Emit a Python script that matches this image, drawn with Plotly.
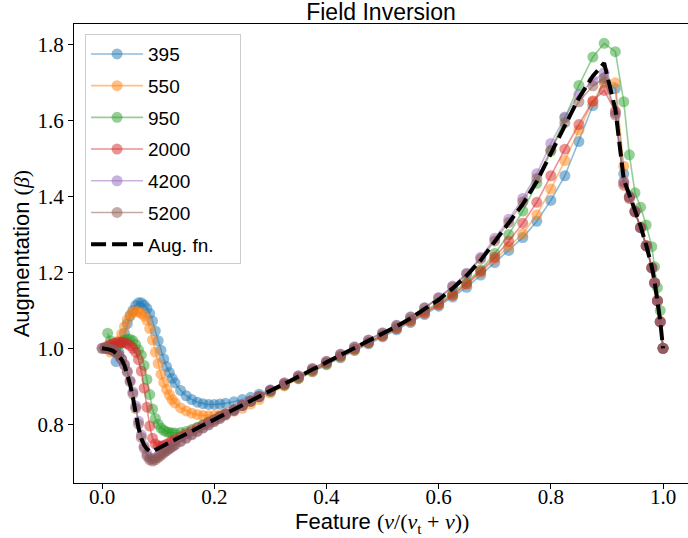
import plotly.graph_objects as go

# Shared feature grid (x)
X = [0.0, 0.005, 0.01, 0.015, 0.02, 0.025, 0.03, 0.035, 0.04, 0.045,
     0.05, 0.055, 0.06, 0.065, 0.07, 0.075, 0.08, 0.085, 0.09, 0.095,
     0.10, 0.105, 0.11, 0.115, 0.12, 0.125, 0.13, 0.14, 0.15, 0.16,
     0.17, 0.18, 0.19, 0.20, 0.21, 0.22, 0.235, 0.25, 0.265, 0.28,
     0.30, 0.325, 0.35, 0.375, 0.40, 0.425, 0.45, 0.475, 0.50, 0.525,
     0.55, 0.575, 0.60, 0.625, 0.65, 0.675, 0.70, 0.725, 0.75, 0.775,
     0.80, 0.825, 0.85, 0.875, 0.895, 0.915, 0.93, 0.94, 0.95, 0.96,
     0.97, 0.98, 0.985, 0.99, 0.995, 1.0]

N = None
Y395 = [N, N, N, N, N, 0.965, 0.990, 1.015, 1.040, 1.065,
        1.085, 1.100, 1.113, 1.120, 1.120, 1.114, 1.105, 1.092, 1.072, 1.046,
        1.020, 0.995, 0.972, 0.952, 0.936, 0.921, 0.909, 0.889, 0.875, 0.865,
        0.858, 0.854, 0.852, 0.852, 0.853, 0.855, 0.859, 0.865, 0.871, 0.879,
        0.890, 0.904, 0.920, 0.938, 0.957, 0.975, 0.994, 1.012, 1.030, 1.049,
        1.068, 1.089, 1.111, 1.135, 1.161, 1.193, 1.226, 1.258, 1.292, 1.335,
        1.390, 1.455, 1.545, 1.640, 1.705, 1.685, 1.460, 1.400, 1.360, 1.318,
        1.270, 1.212, 1.172, 1.125, 1.070, 1.000]

Y550 = [N, N, N, 0.990, 0.996, 1.006, 1.020, 1.038, 1.057, 1.075,
        1.088, 1.096, 1.098, 1.096, 1.092, 1.086, 1.074, 1.052, 1.022, 0.990,
        0.960, 0.932, 0.910, 0.892, 0.877, 0.865, 0.856, 0.843, 0.835, 0.829,
        0.825, 0.823, 0.822, 0.823, 0.825, 0.828, 0.834, 0.842, 0.853, 0.865,
        0.882, 0.901, 0.920, 0.939, 0.958, 0.977, 0.996, 1.014, 1.033, 1.052,
        1.072, 1.093, 1.115, 1.140, 1.168, 1.200, 1.235, 1.268, 1.302, 1.352,
        1.420, 1.495, 1.575, 1.650, 1.700, 1.700, 1.480, 1.400, 1.362, 1.320,
        1.272, 1.214, 1.174, 1.127, 1.071, 1.000]

Y950 = [N, N, 1.040, 1.020, 1.008, 1.005, 1.009, 1.016, 1.021, 1.024,
        1.024, 1.020, 1.010, 0.996, 0.982, 0.955, 0.918, 0.878, 0.840, 0.815,
        0.800, 0.790, 0.784, 0.780, 0.778, 0.777, 0.777, 0.778, 0.781, 0.786,
        0.792, 0.799, 0.806, 0.812, 0.820, 0.827, 0.838, 0.849, 0.860, 0.872,
        0.886, 0.903, 0.922, 0.941, 0.960, 0.979, 0.998, 1.016, 1.035, 1.055,
        1.076, 1.098, 1.120, 1.145, 1.175, 1.207, 1.250, 1.300, 1.362, 1.435,
        1.520, 1.607, 1.693, 1.768, 1.804, 1.782, 1.650, 1.510, 1.410, 1.372,
        1.325, 1.268, 1.215, 1.160, 1.100, 1.000]

Y2000 = [N, 1.002, 1.006, 1.010, 1.013, 1.015, 1.016, 1.016, 1.015, 1.012,
         1.007, 1.000, 0.990, 0.970, 0.940, 0.895, 0.845, 0.795, 0.763, 0.748,
         0.743, 0.742, 0.744, 0.747, 0.751, 0.755, 0.759, 0.767, 0.775, 0.782,
         0.790, 0.797, 0.805, 0.812, 0.820, 0.827, 0.838, 0.850, 0.861, 0.873,
         0.888, 0.906, 0.924, 0.943, 0.962, 0.980, 0.998, 1.015, 1.033, 1.052,
         1.072, 1.093, 1.115, 1.140, 1.170, 1.203, 1.240, 1.282, 1.330, 1.385,
         1.455, 1.525, 1.590, 1.652, 1.680, 1.625, 1.430, 1.395, 1.360, 1.318,
         1.270, 1.212, 1.172, 1.125, 1.070, 1.000]

Y4200 = [1.000, 1.000, 0.999, 0.997, 0.994, 0.989, 0.982, 0.972, 0.958, 0.940,
         0.915, 0.885, 0.848, 0.808, 0.772, 0.742, 0.722, 0.711, 0.708, 0.711,
         0.716, 0.722, 0.727, 0.732, 0.737, 0.742, 0.747, 0.756, 0.765, 0.774,
         0.782, 0.791, 0.799, 0.808, 0.816, 0.825, 0.837, 0.850, 0.862, 0.874,
         0.890, 0.909, 0.928, 0.947, 0.966, 0.985, 1.004, 1.022, 1.041, 1.061,
         1.083, 1.107, 1.134, 1.164, 1.198, 1.240, 1.290, 1.340, 1.395, 1.460,
         1.540, 1.610, 1.670, 1.705, 1.727, 1.620, 1.440, 1.400, 1.362, 1.318,
         1.270, 1.212, 1.172, 1.125, 1.070, 1.000]

Y5200 = [1.000, 1.000, 0.999, 0.997, 0.994, 0.989, 0.982, 0.971, 0.956, 0.937,
         0.912, 0.880, 0.842, 0.800, 0.765, 0.737, 0.716, 0.706, 0.703, 0.706,
         0.712, 0.718, 0.724, 0.730, 0.735, 0.740, 0.745, 0.754, 0.763, 0.772,
         0.781, 0.790, 0.798, 0.807, 0.815, 0.824, 0.836, 0.849, 0.861, 0.873,
         0.889, 0.908, 0.927, 0.946, 0.965, 0.984, 1.003, 1.021, 1.040, 1.060,
         1.082, 1.106, 1.132, 1.162, 1.196, 1.236, 1.283, 1.332, 1.386, 1.448,
         1.522, 1.595, 1.650, 1.692, 1.712, 1.615, 1.437, 1.398, 1.360, 1.318,
         1.270, 1.212, 1.172, 1.125, 1.070, 1.000]

AUG = [1.000, 1.000, 0.998, 0.996, 0.993, 0.987, 0.980, 0.970, 0.955, 0.933,
       0.905, 0.870, 0.828, 0.790, 0.762, 0.745, 0.735, 0.729, 0.728, 0.731,
       0.736, 0.740, 0.744, 0.748, 0.752, 0.756, 0.760, 0.767, 0.775, 0.782,
       0.790, 0.797, 0.805, 0.812, 0.820, 0.827, 0.838, 0.850, 0.861, 0.873,
       0.888, 0.906, 0.925, 0.944, 0.963, 0.982, 1.001, 1.019, 1.038, 1.058,
       1.079, 1.102, 1.128, 1.158, 1.192, 1.232, 1.280, 1.328, 1.380, 1.440,
       1.513, 1.590, 1.660, 1.718, 1.752, 1.630, 1.445, 1.405, 1.366, 1.322,
       1.272, 1.215, 1.175, 1.128, 1.072, 1.000]

NAMES = ["395", "550", "950", "2000", "4200", "5200"]
SERIES = [Y395, Y550, Y950, Y2000, Y4200, Y5200]
COLORS = ["31,119,180", "255,127,14", "44,160,44", "214,39,40", "148,103,189", "140,86,75"]
AUG_NAME = "Aug. fn."

X_TICKS = [0.0, 0.2, 0.4, 0.6, 0.8, 1.0]
Y_TICKS = [0.8, 1.0, 1.2, 1.4, 1.6, 1.8]

fig = go.Figure()
for name, ys, c in zip(NAMES, SERIES, COLORS):
    fig.add_trace(go.Scatter(
        x=X, y=ys, name=name, mode="lines+markers", legendgroup=name,
        line=dict(color=f"rgba({c},0.5)", width=1.6),
        marker=dict(color=f"rgba({c},0.5)", size=11, line=dict(width=0)),
        connectgaps=False,
    ))
fig.add_trace(go.Scatter(
    x=X, y=AUG, name=AUG_NAME + "\u00a0" * 4, mode="lines", legendgroup="aug",
    line=dict(color="black", width=4, dash="15px,6px"),
))

SANS = "Liberation Sans"
SERIF = "Liberation Serif"

fig.update_layout(
    width=688, height=538,
    margin=dict(l=74, r=0, t=24, b=55),
    paper_bgcolor="white", plot_bgcolor="white",
    title=dict(text="Field Inversion", x=0.5, xref="paper", xanchor="center",
               y=1 - 12 / 538, yref="container", yanchor="middle",
               font=dict(family=SANS, size=23, color="black")),
    showlegend=True,
    legend=dict(x=0.018, y=0.978, xanchor="left", yanchor="top",
                bgcolor="rgba(255,255,255,0.8)", bordercolor="#cccccc", borderwidth=1,
                font=dict(family=SANS, size=19, color="black"),
                traceorder="grouped", tracegroupgap=4, itemwidth=52),
    xaxis=dict(range=[-0.05, 1.0445], tickvals=X_TICKS,
               ticktext=[f"{v:.1f}" for v in X_TICKS],
               showgrid=False, zeroline=False, showline=True, linecolor="black",
               linewidth=1, mirror=True, ticks="outside", ticklen=5, tickcolor="black",
               ticklabelstandoff=-10,
               tickfont=dict(family=SERIF, size=21, color="black")),
    yaxis=dict(range=[0.645, 1.855], tickvals=Y_TICKS,
               ticktext=[f"{v:.1f}" for v in Y_TICKS],
               showgrid=False, zeroline=False, showline=True, linecolor="black",
               linewidth=1, ticks="outside", ticklen=5, tickcolor="black",
               tickfont=dict(family=SERIF, size=21, color="black")),
    annotations=[
        dict(text="Feature <span style='font-family:Liberation Serif'>(<i>ν</i>/(<i>ν</i><sub>t</sub> + <i>ν</i>))</span>",
             x=0.5016, y=-0.087, xref="paper", yref="paper", xanchor="center", yanchor="middle",
             showarrow=False, font=dict(family=SANS, size=22, color="black")),
        dict(text="Augmentation <span style='font-family:Liberation Serif'>(<i>β</i>)</span>",
             x=-0.085, y=0.5, xref="paper", yref="paper", xanchor="center", yanchor="middle",
             textangle=-90, showarrow=False, font=dict(family=SANS, size=22, color="black")),
    ],
)

fig.write_html("out.html")
